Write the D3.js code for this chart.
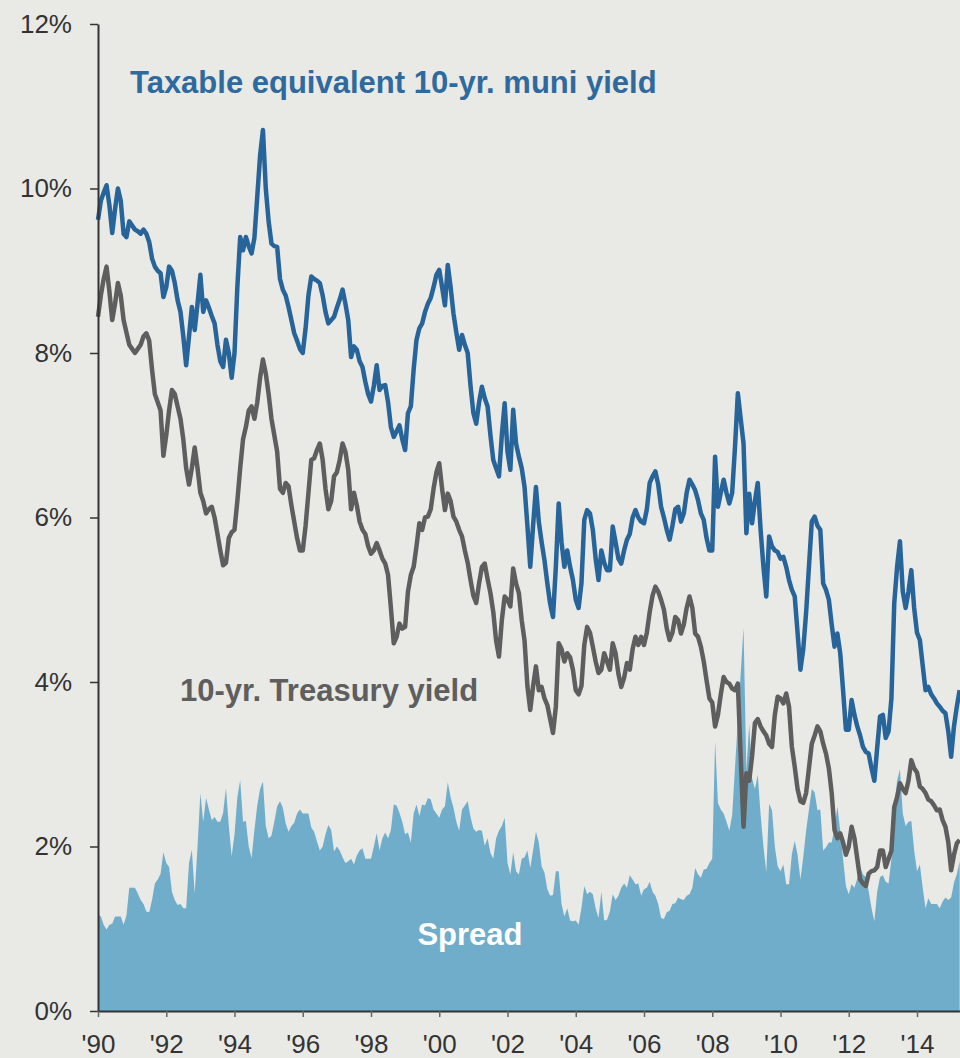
<!DOCTYPE html>
<html>
<head>
<meta charset="utf-8">
<script src="https://cdn.jsdelivr.net/npm/d3@7"></script>
<style>
  html, body { margin: 0; padding: 0; background: #e9e9e5; }
  svg { display: block; }
  text { font-family: "Liberation Sans", Arial, sans-serif; }
</style>
</head>
<body>
<svg id="chart" width="960" height="1058"></svg>
<script>
// Monthly observations, January 1990 onward (percent)
const startYear = 1990;

const treasuryYield = [
  8.44, 8.70, 8.90, 9.05, 8.75, 8.40, 8.60, 8.85, 8.70, 8.40, 8.25, 8.10, // 1990
  8.05, 8.00, 8.05, 8.10, 8.20, 8.24, 8.15, 7.80, 7.50, 7.40, 7.30, 6.75, // 1991
  7.00, 7.30, 7.55, 7.50, 7.35, 7.20, 6.95, 6.60, 6.40, 6.60, 6.85, 6.60, // 1992
  6.30, 6.20, 6.05, 6.10, 6.13, 6.00, 5.80, 5.60, 5.42, 5.45, 5.75, 5.82, // 1993
  5.85, 6.20, 6.60, 6.95, 7.10, 7.30, 7.35, 7.20, 7.40, 7.70, 7.92, 7.75, // 1994
  7.50, 7.20, 7.00, 6.80, 6.35, 6.30, 6.42, 6.38, 6.15, 5.95, 5.75, 5.60, // 1995
  5.60, 5.90, 6.30, 6.70, 6.72, 6.82, 6.90, 6.70, 6.35, 6.10, 6.20, 6.50, // 1996
  6.55, 6.70, 6.90, 6.80, 6.58, 6.10, 6.30, 6.15, 5.95, 5.85, 5.80, 5.65, // 1997
  5.56, 5.60, 5.69, 5.60, 5.50, 5.44, 5.30, 4.90, 4.47, 4.55, 4.71, 4.65, // 1998
  4.67, 5.10, 5.30, 5.40, 5.65, 5.93, 5.85, 6.00, 6.01, 6.10, 6.35, 6.55, // 1999
  6.66, 6.35, 6.09, 6.29, 6.20, 6.01, 5.95, 5.85, 5.77, 5.60, 5.45, 5.24, // 2000
  5.05, 4.96, 5.20, 5.40, 5.44, 5.25, 5.08, 4.85, 4.50, 4.31, 4.75, 5.04, // 2001
  5.00, 4.92, 5.38, 5.20, 5.08, 4.75, 4.50, 3.95, 3.66, 3.95, 4.19, 3.90, // 2002
  3.94, 3.80, 3.72, 3.55, 3.38, 3.70, 4.47, 4.40, 4.25, 4.35, 4.30, 4.15, // 2003
  3.90, 3.85, 3.95, 4.45, 4.67, 4.60, 4.43, 4.25, 4.11, 4.15, 4.35, 4.25, // 2004
  4.15, 4.47, 4.35, 4.10, 3.94, 4.05, 4.23, 4.15, 4.40, 4.55, 4.45, 4.55, // 2005
  4.45, 4.60, 4.85, 5.05, 5.16, 5.10, 5.00, 4.88, 4.65, 4.51, 4.60, 4.79, // 2006
  4.75, 4.59, 4.70, 4.90, 5.04, 4.90, 4.59, 4.55, 4.43, 4.25, 4.02, 3.80, // 2007
  3.75, 3.46, 3.60, 3.85, 4.06, 4.00, 3.98, 3.92, 3.90, 3.98, 3.10, 2.24, // 2008
  2.89, 2.80, 3.10, 3.50, 3.55, 3.46, 3.40, 3.35, 3.25, 3.21, 3.60, 3.82, // 2009
  3.80, 3.74, 3.86, 3.70, 3.21, 2.97, 2.70, 2.55, 2.53, 2.65, 2.95, 3.25, // 2010
  3.35, 3.46, 3.40, 3.25, 3.13, 2.95, 2.65, 2.20, 2.10, 2.16, 2.05, 1.90, // 2011
  2.00, 2.24, 2.10, 1.85, 1.60, 1.55, 1.52, 1.67, 1.70, 1.71, 1.75, 1.95, // 2012
  1.95, 1.75, 1.85, 1.95, 2.48, 2.60, 2.77, 2.70, 2.65, 2.80, 3.05, 2.95, // 2013
  2.90, 2.73, 2.70, 2.65, 2.57, 2.55, 2.50, 2.44, 2.45, 2.32, 2.24, 2.05, // 2014
  1.71, 1.90, 2.04, 2.08                                                  // 2015
];

const muniTaxableEquivalent = [
  9.62, 9.85, 9.95, 10.04, 9.80, 9.46, 9.75, 10.00, 9.85, 9.45, 9.41, 9.60, // 1990
  9.55, 9.50, 9.48, 9.45, 9.50, 9.45, 9.35, 9.15, 9.05, 9.00, 8.97, 8.68,   // 1991
  8.80, 9.05, 9.00, 8.85, 8.64, 8.50, 8.20, 7.85, 8.20, 8.56, 8.28, 8.60,   // 1992
  8.95, 8.50, 8.64, 8.55, 8.45, 8.36, 8.10, 7.90, 7.83, 8.16, 8.00, 7.70,   // 1993
  8.00, 8.80, 9.41, 9.25, 9.41, 9.30, 9.21, 9.40, 9.90, 10.40, 10.71, 10.00, // 1994
  9.60, 9.33, 9.30, 9.29, 8.90, 8.77, 8.70, 8.56, 8.40, 8.24, 8.15, 8.05,   // 1995
  8.00, 8.30, 8.70, 8.93, 8.90, 8.88, 8.85, 8.70, 8.50, 8.36, 8.40, 8.44,   // 1996
  8.55, 8.65, 8.77, 8.60, 8.40, 7.95, 8.08, 8.04, 7.90, 7.83, 7.65, 7.50,   // 1997
  7.41, 7.60, 7.85, 7.55, 7.60, 7.61, 7.40, 7.10, 6.98, 7.05, 7.12, 6.95,   // 1998
  6.82, 7.27, 7.35, 7.80, 8.16, 8.30, 8.36, 8.50, 8.60, 8.67, 8.80, 8.95,   // 1999
  9.01, 8.80, 8.58, 9.07, 8.80, 8.48, 8.25, 8.04, 8.22, 8.10, 8.00, 7.60,   // 2000
  7.27, 7.14, 7.40, 7.59, 7.45, 7.35, 7.00, 6.70, 6.60, 6.50, 7.00, 7.39,   // 2001
  6.80, 6.58, 7.31, 6.90, 6.74, 6.60, 6.37, 5.90, 5.40, 5.90, 6.37, 5.95,   // 2002
  5.70, 5.48, 5.20, 4.95, 4.79, 5.40, 6.17, 5.70, 5.40, 5.60, 5.40, 5.24,   // 2003
  5.00, 4.90, 5.20, 5.97, 6.09, 6.05, 5.85, 5.50, 5.24, 5.60, 5.45, 5.36,   // 2004
  5.36, 5.89, 5.70, 5.50, 5.44, 5.60, 5.73, 5.80, 6.00, 6.09, 6.00, 5.95,   // 2005
  5.93, 6.10, 6.42, 6.50, 6.56, 6.40, 6.13, 6.00, 5.85, 5.73, 5.90, 6.10,   // 2006
  6.13, 5.95, 6.05, 6.30, 6.46, 6.40, 6.33, 6.21, 6.05, 5.97, 5.75, 5.60,   // 2007
  5.60, 6.74, 6.13, 6.30, 6.46, 6.30, 6.17, 6.30, 6.86, 7.51, 7.20, 6.90,   // 2008
  5.81, 6.29, 5.93, 6.20, 6.42, 5.85, 5.40, 5.04, 5.77, 5.65, 5.60, 5.58,   // 2009
  5.50, 5.52, 5.40, 5.24, 5.12, 5.04, 4.60, 4.15, 4.40, 4.84, 5.40, 5.95,   // 2010
  6.01, 5.90, 5.85, 5.20, 5.12, 5.00, 4.70, 4.43, 4.59, 4.35, 3.90, 3.42,   // 2011
  3.42, 3.78, 3.60, 3.46, 3.35, 3.21, 3.15, 3.13, 2.95, 2.80, 3.20, 3.58,   // 2012
  3.60, 3.32, 3.40, 3.80, 4.96, 5.40, 5.71, 5.10, 4.90, 5.10, 5.36, 4.90,   // 2013
  4.60, 4.51, 4.20, 3.90, 3.94, 3.85, 3.80, 3.74, 3.70, 3.65, 3.62, 3.40,   // 2014
  3.09, 3.46, 3.70, 3.90                                                    // 2015
];

const yTickValues = [0, 2, 4, 6, 8, 10, 12];
const xTickYears = [1990, 1992, 1994, 1996, 1998, 2000, 2002, 2004, 2006, 2008, 2010, 2012, 2014];

const labels = {
  muni: "Taxable equivalent 10-yr. muni yield",
  treasury: "10-yr. Treasury yield",
  spread: "Spread"
};

// Combine into rows; spread is the muni yield minus the Treasury yield
const rows = treasuryYield.map((t, i) => ({
  date: startYear + i / 12,
  treasury: t,
  muni: muniTaxableEquivalent[i],
  spread: muniTaxableEquivalent[i] - t
}));

const svg = d3.select("#chart");
const plot = { left: 98, right: 960, top: 24, bottom: 1011 };

const x = d3.scaleLinear().domain([1990, 2015.26]).range([plot.left, plot.right]);
const y = d3.scaleLinear().domain([0, 12]).range([plot.bottom, plot.top]);

// Spread area
svg.append("path")
  .datum(rows)
  .attr("fill", "#70adcb")
  .attr("d", d3.area()
    .x(d => x(d.date))
    .y0(y(0))
    .y1(d => y(d.spread)));

// Yield lines
const line = key => d3.line().x(d => x(d.date)).y(d => y(d[key]));

svg.append("path")
  .datum(rows)
  .attr("fill", "none")
  .attr("stroke", "#5e5e5e")
  .attr("stroke-width", 4.5)
  .attr("stroke-linejoin", "round")
  .attr("d", line("treasury"));

svg.append("path")
  .datum(rows)
  .attr("fill", "none")
  .attr("stroke", "#27649a")
  .attr("stroke-width", 4.5)
  .attr("stroke-linejoin", "round")
  .attr("d", line("muni"));

// Axes
const yAxis = svg.append("g")
  .attr("transform", `translate(${plot.left},0)`)
  .call(d3.axisLeft(y)
    .tickValues(yTickValues)
    .tickFormat(d => d + "%")
    .tickSize(8)
    .tickSizeOuter(0)
    .tickPadding(18));
yAxis.select(".domain").attr("stroke", "#333").attr("stroke-width", 2);
yAxis.selectAll(".tick line").attr("stroke", "#333").attr("stroke-width", 1.5);
yAxis.selectAll(".tick text")
  .attr("font-size", 26)
  .attr("fill", "#333")
  .attr("font-family", "Liberation Sans, Arial, sans-serif");

const xAxis = svg.append("g")
  .attr("transform", `translate(0,${plot.bottom})`)
  .call(d3.axisBottom(x)
    .tickValues(xTickYears)
    .tickFormat(d => "'" + String(d).slice(2))
    .tickSize(6)
    .tickSizeOuter(0)
    .tickPadding(18));
xAxis.select(".domain").attr("stroke", "#333").attr("stroke-width", 2);
xAxis.selectAll(".tick line").attr("stroke", "#666").attr("stroke-width", 1.5);
xAxis.selectAll(".tick text")
  .attr("font-size", 26)
  .attr("fill", "#333")
  .attr("font-family", "Liberation Sans, Arial, sans-serif");

// Series labels
svg.append("text")
  .attr("x", 130).attr("y", 93)
  .attr("font-size", 31).attr("font-weight", "bold")
  .attr("fill", "#2e6a9e")
  .text(labels.muni);

svg.append("text")
  .attr("x", 180).attr("y", 701)
  .attr("font-size", 31).attr("font-weight", "bold")
  .attr("fill", "#5e5e5e")
  .text(labels.treasury);

svg.append("text")
  .attr("x", 470).attr("y", 945)
  .attr("text-anchor", "middle")
  .attr("font-size", 31).attr("font-weight", "bold")
  .attr("fill", "#ffffff")
  .text(labels.spread);
</script>
</body>
</html>
